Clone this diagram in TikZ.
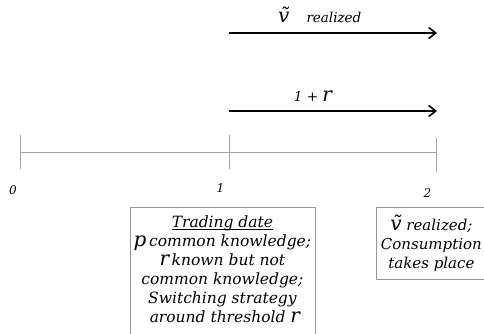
\documentclass[tikz,border=0pt]{standalone}
\usepackage{fontspec}
\setmainfont{DejaVu Serif}
\usetikzlibrary{arrows.meta,positioning}
\definecolor{axisgray}{RGB}{165,165,165}
\definecolor{boxgray}{RGB}{150,150,150}
\tikzset{
  axisline/.style={draw=axisgray, line width=1pt},
  timearrow/.style={draw=black, line width=1.3pt, -{Straight Barb[length=7pt,width=11pt,line width=1.6pt]}},
  datelabel/.style={font=\itshape\fontsize{12}{14}\selectfont, inner sep=0pt, anchor=base},
  arrowlabel/.style={font=\itshape\fontsize{13.5}{15}\selectfont, inner sep=0pt, anchor=base},
  infobox/.style={draw=boxgray, line width=0.8pt, align=center, anchor=north west,
    font=\itshape\fontsize{15}{19}\selectfont}
}
\newcommand{\bigsym}[1]{{\fontsize{20}{19}\selectfont #1}}
\newcommand{\ulinetext}[1]{\setbox0\hbox{#1}\rlap{\rule[-2.5pt]{\wd0}{0.6pt}}\box0}
\begin{document}
\begin{tikzpicture}[x=1pt,y=1pt]
  \useasboundingbox (0,0) rectangle (484,334);
  % time axis
  \coordinate (t0) at (20.5,181.3);
  \coordinate (t1) at (229,181.3);
  \coordinate (t2) at (436,181.3);
  \draw[axisline] (t0) -- (t2);
  \draw[axisline] (20.5,199) -- (20.5,165);
  \draw[axisline] (229,199) -- (229,165);
  \draw[axisline] (436,196) -- (436,162);
  \node[datelabel] (d0) at (13,139) {0};
  \node[datelabel] (d1) at (220.5,141) {1};
  \node[datelabel] (d2) at (427.5,136) {2};
  % arrows from date 1 to date 2
  \coordinate (vs) at (229,301);
  \coordinate (ve) at (437,301);
  \draw[timearrow] (vs) -- (ve);
  \node[arrowlabel, anchor=base west] (vlab) at (278,311)
    {\bigsym{\~{v}}\hspace{17pt}realized};
  \coordinate (rs) at (229,223);
  \coordinate (re) at (437,223);
  \draw[timearrow] (rs) -- (re);
  \node[arrowlabel] (rlab) at (313,232) {1 + \bigsym{r}};
  % boxes below the axis
  \node[infobox, font=\itshape\fontsize{15.5}{19}\selectfont, minimum width=185pt,
    inner xsep=2pt, inner ysep=8pt] (trade) at (129.5,127)
    {\ulinetext{Trading date}\\
     \bigsym{p}\,common knowledge;\\
     \bigsym{r}\,known but not\\
     common knowledge;\\
     Switching strategy\\
     \ around threshold \bigsym{r}\\[4pt]};
  \node[infobox, minimum width=110pt, minimum height=72pt, inner sep=2pt] (consume) at (376,127)
    {\bigsym{\~{v}} realized;\\
     Consumption\\
     takes place};
\end{tikzpicture}
\end{document}
